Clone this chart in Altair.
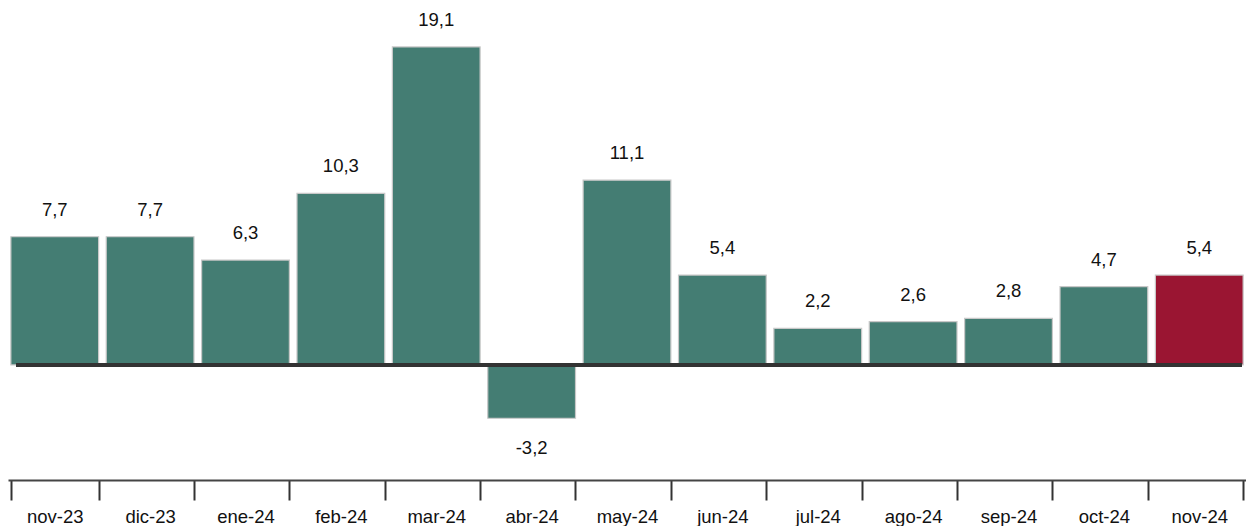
import altair as alt
import pandas as pd

months = ["nov-23", "dic-23", "ene-24", "feb-24", "mar-24", "abr-24", "may-24",
          "jun-24", "jul-24", "ago-24", "sep-24", "oct-24", "nov-24"]
values = [7.7, 7.7, 6.3, 10.3, 19.1, -3.2, 11.1, 5.4, 2.2, 2.6, 2.8, 4.7, 5.4]
groups = ["prev"] * 12 + ["last"]

df = pd.DataFrame({
    "mes": months,
    "valor": values,
    "grupo": groups,
    "etiqueta": [f"{v:.1f}".replace(".", ",") for v in values],
})

FONT = "Liberation Sans"

x_enc = alt.X(
    "mes:N", sort=months,
    scale=alt.Scale(paddingInner=0.08, paddingOuter=0.03),
    axis=alt.Axis(
        title=None, labelAngle=0, labelFont=FONT, labelFontSize=18.5,
        labelColor="#111111", domainColor="#444444", domainWidth=2,
        tickColor="#333333", tickWidth=2, tickSize=20, labelPadding=7,
        tickBand="extent", grid=False,
    ),
)
y_scale = alt.Scale(domain=[-6.91, 21.44], nice=False, zero=False)

base = alt.Chart(df)

bars = base.mark_bar(stroke="#c8c8c8", strokeWidth=1.2).encode(
    x=x_enc,
    y=alt.Y("valor:Q", scale=y_scale, axis=None),
    color=alt.Color("grupo:N",
                    scale=alt.Scale(domain=["prev", "last"], range=["#447d73", "#9a1532"]),
                    legend=None),
)

zero = base.mark_rule(color="#333333", strokeWidth=3).encode(
    y=alt.datum(0),
    x=alt.value(8),
    x2=alt.value(1234),
)

txt_pos = base.transform_filter("datum.valor >= 0").mark_text(
    font=FONT, fontSize=18.5, color="#111111", baseline="alphabetic", dy=-21
).encode(
    x=alt.X("mes:N", sort=months),
    y=alt.Y("valor:Q", scale=y_scale),
    text="etiqueta:N",
)

txt_neg = base.transform_filter("datum.valor < 0").mark_text(
    font=FONT, fontSize=18.5, color="#111111", baseline="alphabetic", dy=36
).encode(
    x=alt.X("mes:N", sort=months),
    y=alt.Y("valor:Q", scale=y_scale),
    text="etiqueta:N",
)

chart = alt.layer(bars, zero, txt_pos, txt_neg).properties(
    width=1238, height=472, padding=0, background="white"
).configure_view(stroke=None)

chart.save("out.html", embed_options={"renderer": "svg", "actions": False})
